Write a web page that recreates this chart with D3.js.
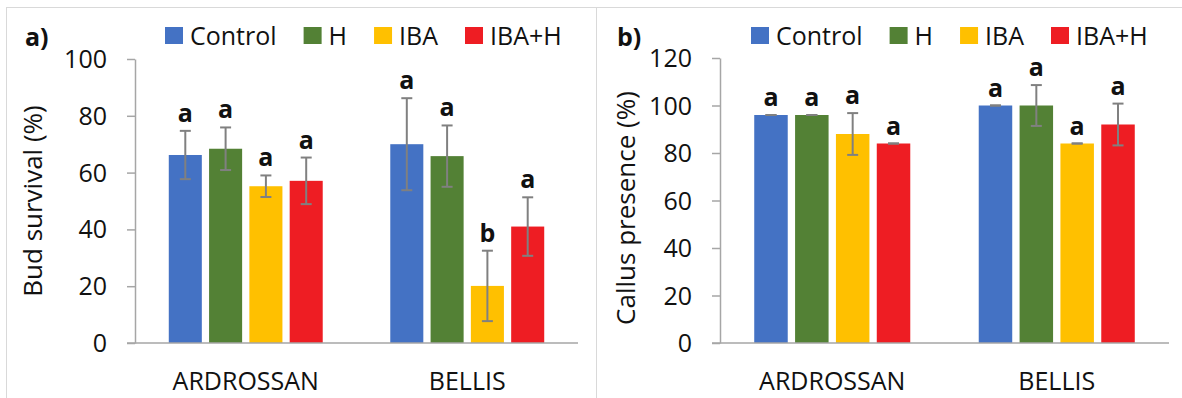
<!DOCTYPE html>
<html>
<head>
<meta charset="utf-8">
<script src="https://cdn.jsdelivr.net/npm/d3@7"></script>
<style>
  html, body { margin: 0; padding: 0; background: #fff; }
  svg { display: block; font-family: "Open Sans", sans-serif; }
</style>
</head>
<body>
<svg id="chart" width="1182" height="398"></svg>
<script>
// ---------- data ----------
const categories = ["ARDROSSAN", "BELLIS"];
const series = ["Control", "H", "IBA", "IBA+H"];
const seriesColors = ["#4472C4", "#538135", "#FFC000", "#EE1D23"];

// Panel a: Bud survival (%) — rows = categories, columns = series
const budMeans  = [[66.2, 68.4, 55.2, 57.1], [70.0, 65.8, 20.1, 41.0]];
const budErrors = [[8.5, 7.5, 3.8, 8.2], [16.2, 10.8, 12.4, 10.3]];
const budLetters = [["a", "a", "a", "a"], ["a", "a", "b", "a"]];
const budTicks = [0, 20, 40, 60, 80, 100];

// Panel b: Callus presence (%)
const callusMeans  = [[96, 96, 88, 84], [100, 100, 84, 92]];
const callusErrors = [[0, 0, 8.8, 0], [0, 8.6, 0, 8.8]];
const callusLetters = [["a", "a", "a", "a"], ["a", "a", "a", "a"]];
const callusTicks = [0, 20, 40, 60, 80, 100, 120];

// ---------- drawing ----------
const svg = d3.select("#chart");
const axisColor = "#a6a6a6";
const errColor = "#808080";
const textColor = "#111";
const fs = "25px";

// panel frames
svg.append("rect").attr("x", 6.5).attr("y", 7.5).attr("width", 590).attr("height", 420)
  .attr("fill", "none").attr("stroke", "#d9d9d9").attr("stroke-width", 1);
svg.append("rect").attr("x", 596.5).attr("y", 7.5).attr("width", 620).attr("height", 420)
  .attr("fill", "none").attr("stroke", "#d9d9d9").attr("stroke-width", 1);

function drawPanel(cfg) {
  const g = svg.append("g");
  const x0 = d3.scaleBand().domain(categories).range([cfg.left, cfg.right]).padding(0);
  const groupW = x0.bandwidth() * 0.695;
  const x1 = d3.scaleBand().domain(series).range([0, groupW]).paddingInner(0.18).paddingOuter(0);
  const y = d3.scaleLinear().domain([0, cfg.max]).range([cfg.bottom, cfg.top]);

  // y axis
  const yAxis = d3.axisLeft(y).tickValues(cfg.ticks).tickSize(8).tickSizeOuter(0).tickPadding(20);
  const ya = g.append("g").attr("transform", `translate(${cfg.left},0)`).call(yAxis);
  ya.select(".domain").attr("stroke", axisColor).attr("stroke-width", 1.5);
  ya.selectAll(".tick line").attr("stroke", axisColor).attr("stroke-width", 1.5);
  ya.selectAll(".tick text").attr("fill", textColor).style("font-size", fs)
    .style("font-family", "'Open Sans', sans-serif").attr("dy", "0.34em");

  // bars
  categories.forEach((cat, ci) => {
    const gx = x0(cat) + (x0.bandwidth() - groupW) / 2;
    series.forEach((s, si) => {
      const v = cfg.means[ci][si];
      const e = cfg.errors[ci][si];
      const bx = gx + x1(s);
      const cx = bx + x1.bandwidth() / 2;
      g.append("rect")
        .attr("x", bx).attr("y", y(v))
        .attr("width", x1.bandwidth()).attr("height", y(0) - y(v))
        .attr("fill", seriesColors[si]);
      // error bar
      const capW = 5.5;
      const yt = y(v + e), yb = y(v - e);
      g.append("line").attr("x1", cx).attr("x2", cx).attr("y1", yt).attr("y2", yb)
        .attr("stroke", errColor).attr("stroke-width", 2);
      g.append("line").attr("x1", cx - capW).attr("x2", cx + capW).attr("y1", yt).attr("y2", yt)
        .attr("stroke", errColor).attr("stroke-width", 2);
      g.append("line").attr("x1", cx - capW).attr("x2", cx + capW).attr("y1", yb).attr("y2", yb)
        .attr("stroke", errColor).attr("stroke-width", 2);
      // letter
      g.append("text").attr("x", cx).attr("y", yt - 9)
        .attr("text-anchor", "middle").attr("fill", textColor)
        .style("font-size", "25px").style("font-weight", "bold")
        .text(cfg.letters[ci][si]);
    });
  });

  // x axis line
  g.append("line").attr("x1", cfg.left - 8).attr("x2", cfg.right)
    .attr("y1", y(0)).attr("y2", y(0))
    .attr("stroke", axisColor).attr("stroke-width", 1.5);
  const xAxis = d3.axisBottom(x0).tickSize(0).tickPadding(29);
  const xa = g.append("g").attr("transform", `translate(0,${y(0)})`).call(xAxis);
  xa.select(".domain").remove();
  xa.selectAll(".tick text").attr("fill", textColor).style("font-size", fs)
    .style("font-family", "'Open Sans', sans-serif");

  // y title
  g.append("text")
    .attr("transform", `translate(${cfg.titleX},${cfg.titleY}) rotate(-90)`)
    .attr("text-anchor", "middle").attr("fill", textColor)
    .style("font-size", "26px").text(cfg.yTitle);

  // panel label
  g.append("text").attr("x", cfg.labelX).attr("y", 46).attr("fill", textColor)
    .style("font-size", "25px").style("font-weight", "bold").text(cfg.label);

  // legend
  let lx = cfg.legendX;
  series.forEach((s, si) => {
    g.append("rect").attr("x", lx).attr("y", 27).attr("width", 18).attr("height", 17)
      .attr("fill", seriesColors[si]);
    const t = g.append("text").attr("x", lx + 25).attr("y", 44.5).attr("fill", textColor)
      .style("font-size", fs).text(s);
    lx = lx + 25 + t.node().getComputedTextLength() + 27;
  });
}

drawPanel({
  left: 135, right: 578, top: 59, bottom: 343, max: 100, ticks: budTicks,
  means: budMeans, errors: budErrors, letters: budLetters,
  yTitle: "Bud survival (%)", titleX: 42, titleY: 201,
  label: "a)", labelX: 25, legendX: 165
});
drawPanel({
  left: 720, right: 1169, top: 58, bottom: 343, max: 120, ticks: callusTicks,
  means: callusMeans, errors: callusErrors, letters: callusLetters,
  yTitle: "Callus presence (%)", titleX: 635, titleY: 208,
  label: "b)", labelX: 617, legendX: 751
});
</script>
</body>
</html>
